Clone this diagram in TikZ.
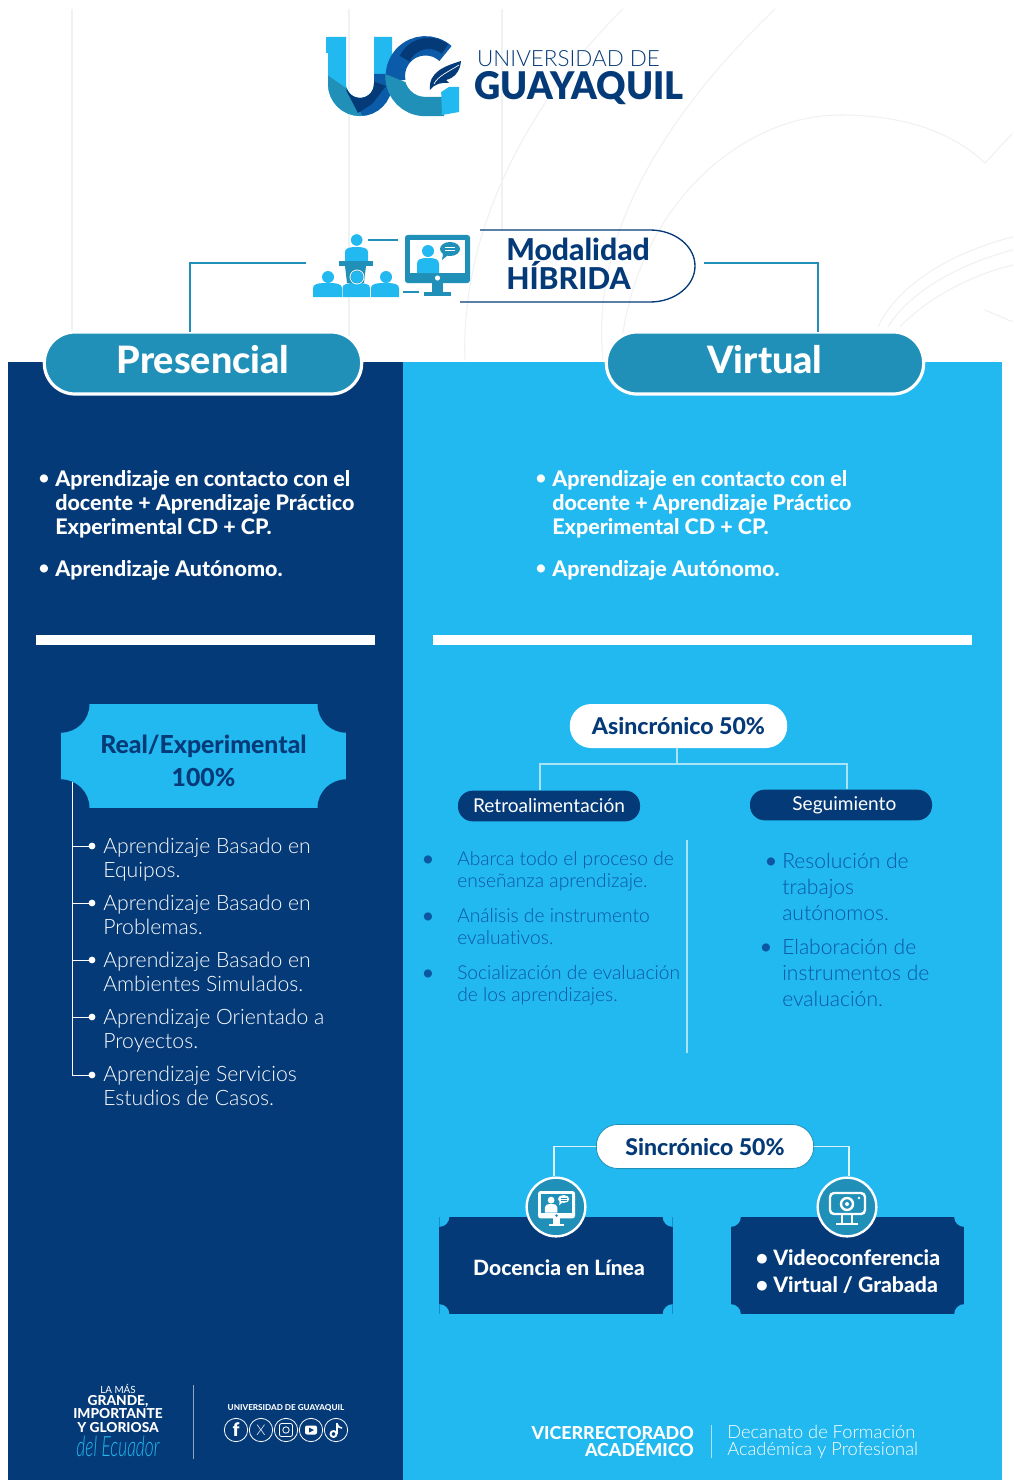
\documentclass[tikz,border=0pt]{standalone}
\usepackage{fontspec}
\setmainfont{Lato}[Ligatures=NoCommon]
\newfontfamily\lightf{Lato Light}[Ligatures=NoCommon]
\newfontfamily\heavyf{Lato Heavy}[Ligatures=NoCommon]
\newfontfamily\blackf{Lato Black}[Ligatures=NoCommon]
\usetikzlibrary{calc}
\definecolor{navy}{HTML}{053A78}
\definecolor{sky}{HTML}{22B8F0}
\definecolor{teal}{HTML}{2190B8}
\definecolor{midblue}{HTML}{0B5BA8}
\definecolor{bodyblue}{HTML}{0B57A2}
\definecolor{faint}{HTML}{EFF1F3}
\definecolor{paleline}{HTML}{A9E3F8}
\newcommand{\fz}[2]{\fontsize{#1}{#2}\selectfont}
\newcommand{\monicon}[6]{%
 \begin{scope}[shift={(#1,#2)},scale=#3]
  \fill[#4,rounded corners=2pt] (0,0) rectangle (65,48);
  \fill[#5] (5,5) rectangle (60,38);
  \fill[#4] (27,48) rectangle (38,57);
  \fill[#4] (19,57) rectangle (46,61);
  \fill[#5] (32.5,43) circle (2.6);
  \fill[#6] (23,16) circle (6);
  \fill[#6] (12,38) -- (12,29) .. controls (12,24) and (16,23) .. (23,23) .. controls (30,23) and (34,24) .. (34,29) -- (34,38) -- cycle;
  \fill[#4] (45,14) ellipse (10 and 7);
  \fill[#4] (38,19) -- (43,20) -- (37,25) -- cycle;
  \draw[#5,line width=.5pt] (40,12) -- (50,12) (40,15.5) -- (50,15.5);
 \end{scope}}
\newcommand{\person}[3]{%
 \fill[sky] (#1,#3) -- (#1,#3-9) .. controls (#1,#3-13) and (#1+5,#3-14) .. ({(#1+#2)/2},#3-14) .. controls (#2-5,#3-14) and (#2,#3-13) .. (#2,#3-9) -- (#2,#3) -- cycle;}
\tikzset{
 pillbig/.style={fill=teal,draw=white,line width=2.4pt,rounded corners=23pt,inner sep=0pt,minimum width=238pt,minimum height=46.5pt},
 pilltext/.style={inner sep=0pt,text=white,font=\heavyf\fz{28.3}{30}},
 pillwhite/.style={fill=white,rounded corners=16pt,text=navy,inner sep=0pt,font=\heavyf\fz{17.3}{18},minimum width=163pt,minimum height=33pt},
 pillnavy/.style={fill=navy,rounded corners=11pt,text=white,inner sep=0pt,font=\fz{14.3}{16},minimum width=136.5pt,minimum height=23pt},
 ticket/.style n args={3}{fill=#1,inner sep=0pt,path picture={
   \fill[#2] (path picture bounding box.north west) circle (#3pt);
   \fill[#2] (path picture bounding box.north east) circle (#3pt);
   \fill[#2] (path picture bounding box.south west) circle (#3pt);
   \fill[#2] (path picture bounding box.south east) circle (#3pt);}},
 boldlist/.style={text=white,anchor=north west,inner sep=0pt,align=left,font=\heavyf\fz{16.1}{18}},
 lightlist/.style={text=white,anchor=north west,inner sep=0pt,align=left,font=\lightf\fz{15.9}{18}},
 retro/.style={text=bodyblue,anchor=north west,inner sep=0pt,align=left,font=\lightf\fz{14.4}{16.5}},
 segui/.style={text=bodyblue,anchor=north west,inner sep=0pt,align=left,font=\lightf\fz{15.8}{19.5}},
 bul/.style={inner sep=0pt,font=\bfseries\fz{14}{14}},
 conn/.style={draw=teal,line width=1.4pt},
 pale/.style={draw=paleline,line width=1.1pt},
 socialc/.style={draw=white,line width=.6pt,circle,minimum size=17.5pt,inner sep=0pt,text=white},
 plain/.style={inner sep=0pt},
}
\begin{document}
\begin{tikzpicture}[x=0.75pt,y=-0.75pt]
\useasboundingbox (0,0) rectangle (1013,1480);
\fill[white] (0,0) rectangle (1013,1480);
% faint background lines
\begin{scope}[draw=faint,line width=.8pt]
 \draw (72,9) -- (72,332);
 \draw (349,9) -- (349,362);
 \draw (502,9) -- (502,230);
 \draw (623,9) .. controls (530,100) and (460,230) .. (465,360);
 \draw (775,9) .. controls (670,110) and (590,230) .. (603,360);
 \draw (620,360) .. controls (630,210) and (740,115) .. (840,115) .. controls (900,115) and (950,130) .. (985,163) -- (1013,133);
 \draw (878,327) .. controls (900,280) and (960,250) .. (1013,237);
 \draw (888,327) .. controls (910,290) and (965,262) .. (1013,250);
 \draw (900,327) .. controls (925,300) and (970,275) .. (1013,265);
 \draw (985,310) -- (1013,322);
\end{scope}
% panels
\fill[navy] (8,362) rectangle (403,1480);
\fill[sky] (403,362) rectangle (1002,1480);
% logo : U
\begin{scope}[line width=13.5pt]
 \draw[sky] (337,37) -- (337,84) arc (180:0:23) -- (383,37);
 \fill[sky] (326,37) rectangle (346,53);
 \begin{scope}
  \clip (320,70) -- (346,88) -- (365,120) -- (320,120) -- cycle;
  \draw[teal] (337,37) -- (337,84) arc (180:0:23);
 \end{scope}
 \begin{scope}
  \clip (346,88) -- (365,120) -- (400,120) -- (400,74) -- (370,74) -- cycle;
  \draw[midblue] (337,84) arc (180:0:23) -- (383,37);
 \end{scope}
 \begin{scope}
  \clip (346,90) -- (358,113) -- (372,104) -- (386,86) -- (370,80) -- cycle;
  \draw[navy] (337,84) arc (180:0:23) -- (383,37);
 \end{scope}
 % G
 \draw[midblue,line width=14.5pt] (445.5,53.5) arc (-48:-190:30);
 \draw[navy,line width=8.5pt] (445,49) arc (-52:-155:26.5);
 \begin{scope}
  \clip (380,72) -- (405,82) -- (425,90) -- (445,90) -- (445,125) -- (380,125) -- cycle;
  \draw[teal,line width=14.5pt] (395,70) -- (395,76.5) arc (180:90:30) -- (444,106.5);
 \end{scope}
\end{scope}
\fill[sky] (441,87) -- (459,87) -- (459,112) -- (442,115) -- cycle;
\fill[white] (427,93) .. controls (425,72) and (445,60) .. (464,56) -- (460,78) -- (450,86) -- (441,92) -- cycle;
\fill[navy] (430,90) .. controls (428,72) and (445,66) .. (461,61) .. controls (460,72) and (454,78) .. (446,80) -- (449,83) .. controls (442,82) and (434,84) .. (430,90) -- cycle;
\draw[white,line width=.5pt] (434,84) .. controls (438,76) and (448,72) .. (459,65);
\node[plain,text=navy,font=\lightf\fz{16.8}{20}] (uni) at (568.5,58.5) {UNIVERSIDAD DE};
\node[plain,text=navy,yscale=1.05,font=\blackf\fz{27.2}{32}] (gye) at (579,88) {GUAYAQUIL};
% hybrid label
\draw[navy,line width=1pt] (480,230) -- (650,230) arc (-90:0:45 and 36) arc (0:90:45 and 36) -- (460,302);
\node[plain,text=navy,anchor=west,align=left,font=\heavyf\fz{22.6}{22}] (mod) at (506,264) {Modalidad\\HÍBRIDA};
% presenter & audience icon
\fill[sky] (356.7,240) circle (5.8);
\person{345}{368}{261}
\fill[teal] (339,261) rectangle (373,266);
\fill[teal] (345,266) -- (366,266) -- (364,283) -- (347,283) -- cycle;
\foreach \hx/\bl/\br in {328/313/342,357/342.5/370,386/371/399}{
 \fill[sky] (\hx,277) circle (6);
 \person{\bl}{\br}{297}
}
\draw[white,line width=.6pt] (357,277) circle (7);
\monicon{405}{235}{1}{teal}{white}{sky}
\draw[teal,line width=1pt] (368,240) -- (398,240);
\draw[teal,line width=1pt] (403,292) -- (419,292);
% top pills
\node[pillbig] (pres) at (203,363) {};
\node[pillbig] (virt) at (765,363) {};
\node[pilltext] (prest) at (203,360) {Presencial};
\node[pilltext] (virtt) at (765,360) {Virtual};
\coordinate (lstart) at (306,263);
\coordinate (rstart) at (704,263);
\draw[conn] (lstart) -| ([xshift=-9.75pt,yshift=-1pt]pres.north);
\draw[conn] (rstart) -| ([xshift=39.75pt,yshift=-1pt]virt.north);
% top bullets
\node[bul,text=white] (b1) at (44,480) {•};
\node[bul,text=white] (b2) at (44,570) {•};
\node[boldlist] (t1) at (55,470) {Aprendizaje en contacto con el\\docente + Aprendizaje Práctico\\Experimental CD + CP.};
\node[boldlist] (t2) at (55,560) {Aprendizaje Autónomo.};
\node[bul,text=white] (b3) at (541,480) {•};
\node[bul,text=white] (b4) at (541,570) {•};
\node[boldlist] (t3) at (552,470) {Aprendizaje en contacto con el\\docente + Aprendizaje Práctico\\Experimental CD + CP.};
\node[boldlist] (t4) at (552,560) {Aprendizaje Autónomo.};
% bars
\fill[white] (36,635) rectangle (375,645);
\fill[white] (433,635) rectangle (972,645);
% left panel
\node[ticket={sky}{navy}{21.5},minimum width=214pt,minimum height=78pt] (real) at (203.5,756) {};
\node[plain,align=center,text=navy,font=\heavyf\fz{18.6}{24.75}] (realt) at (203.5,761) {Real/Experimental\\100\%};
\coordinate (trunk) at (72,782);
\coordinate (trunkend) at (72,1075);
\draw[draw=white,line width=.7pt] (trunk) -- (trunkend);
\foreach \yy in {846,903,960,1017,1075}{
 \draw[draw=white,line width=.7pt] (72,\yy) -- (92,\yy);
 \fill[white] (92,\yy) circle (3.4);
}
\node[lightlist] (l1) at (103,838) {Aprendizaje Basado en\\Equipos.};
\node[lightlist] (l2) at (103,895) {Aprendizaje Basado en\\Problemas.};
\node[lightlist] (l3) at (103,952) {Aprendizaje Basado en\\Ambientes Simulados.};
\node[lightlist] (l4) at (103,1009) {Aprendizaje Orientado a\\Proyectos.};
\node[lightlist] (l5) at (103,1066) {Aprendizaje Servicios\\Estudios de Casos.};
% asincronico
\node[pillwhite] (asin) at (678.5,726) {Asincrónico 50\%};
\node[pillnavy] (retr) at (549,806) {Retroalimentación};
\node[pillnavy] (segu) at (841,805) {\hspace*{5pt}Seguimiento};
\coordinate (forkm) at (677,764);
\draw[pale] (asin.south -| forkm) -- (forkm);
\draw[pale] ([xshift=-6.75pt]retr.north) |- (forkm) -| ([xshift=4.5pt]segu.north);
\foreach \n/\yy in {r1/861,r2/918,r3/975}{\node[bul,text=bodyblue] (\n) at (428,\yy) {•};}
\node[retro] (rt1) at (457,851) {Abarca todo el proceso de\\enseñanza aprendizaje.};
\node[retro] (rt2) at (457,908) {Análisis de instrumento\\evaluativos.};
\node[retro] (rt3) at (457,965) {Socialización de evaluación\\de los aprendizajes.};
\coordinate (vt) at (687,840);
\coordinate (vb) at (687,1053);
\draw[pale] (vt) -- (vb);
\node[bul,text=bodyblue] (s1) at (771,863) {•};
\node[bul,text=bodyblue] (s2) at (766,949) {•};
\node[segui] (st1) at (782,853) {Resolución de\\trabajos\\autónomos.};
\node[segui] (st2) at (782,939) {Elaboración de\\instrumentos de\\evaluación.};
% sincronico
\node[ticket={navy}{sky}{7.5},minimum width=175pt,minimum height=73pt] (doc) at (556,1265.5) {};
\node[ticket={navy}{sky}{7.5},minimum width=175pt,minimum height=73pt] (vid) at (847.5,1265.5) {};
\node[plain,text=white,font=\heavyf\fz{15.8}{20}] (doct) at (559,1267.5) {Docencia en Línea};
\node[plain,text=white,align=left,font=\heavyf\fz{15.9}{20.2}] (vidt) at (848,1271.5) {• Videoconferencia\\• Virtual / Grabada};
\node[pillwhite,draw=teal,line width=.6pt] (sinc) at (705,1146.5) {Sincrónico 50\%};
\node[circle,fill=teal,draw=white,line width=1.8pt,minimum size=44pt,inner sep=0pt] (ic1) at (556,1207) {};
\node[circle,fill=teal,draw=white,line width=1.8pt,minimum size=44pt,inner sep=0pt] (ic2) at (847,1207) {};
\draw[draw=white!85!sky,line width=1.2pt] (sinc.west) -| ([xshift=-1.5pt]ic1.north);
\draw[draw=white!85!sky,line width=1.2pt] (sinc.east) -| ([xshift=1.5pt]ic2.north);
\monicon{538}{1191}{0.57}{white}{teal}{white}
\begin{scope}
 \draw[white,line width=1.8pt,rounded corners=3pt] (830,1193) rectangle (865,1214);
 \draw[white,line width=1.8pt] (847,1204) circle (6);
 \fill[white] (847,1204) circle (2);
 \fill[white] (859,1198) circle (1.3);
 \draw[white,line width=1.3pt] (842,1214) -- (842,1223) (852,1214) -- (852,1223);
 \draw[white,line width=1.6pt] (836,1224) -- (858,1224);
\end{scope}
% footer left
\node[plain,text=white,font=\fz{7.4}{8}] (f1) at (118,1389) {LA MÁS};
\node[plain,text=white,align=center,font=\heavyf\fz{10.3}{10.2}] (f2) at (118,1414) {GRANDE,\\IMPORTANTE\\Y GLORIOSA};
\node[plain,text=sky,xscale=.62,font=\lightf\itshape\fz{21}{21}] (f3) at (118,1446) {del Ecuador};
\coordinate (ft1) at (193,1385);
\coordinate (fb1) at (193,1459);
\draw[draw=white!55!navy,line width=.6pt] (ft1) -- (fb1);
\node[plain,text=white,font=\heavyf\fz{6.1}{7}] (f4) at (286,1408) {UNIVERSIDAD DE GUAYAQUIL};
\node[socialc,font=\blackf\fz{14}{14}] (sf) at (236,1430) {f};
\node[socialc,font=\lightf\fz{11}{11}] (sx) at (261,1430) {X};
\node[socialc] (si) at (286,1430) {};
\node[socialc] (sy) at (311,1430) {};
\node[socialc] (st) at (336,1430) {};
\draw[white,line width=.6pt,rounded corners=1.5pt] (279.5,1423.5) rectangle (292.5,1436.5);
\draw[white,line width=.6pt] (286,1430) circle (3.2);
\fill[white,rounded corners=1.5pt] (305,1425.5) rectangle (317,1434.5);
\fill[navy] (309,1427.5) -- (314,1430) -- (309,1432.5) -- cycle;
\draw[white,line width=1.4pt] (337,1423) -- (337,1434);
\draw[white,line width=1.4pt] (333.5,1434) circle (3);
\draw[white,line width=1.2pt] (337,1423.5) .. controls (338,1427) and (340,1428) .. (342,1428);
% footer right
\node[plain,anchor=east,align=right,text=white,font=\heavyf\fz{13.4}{12.7}] (vr) at (694,1441.5) {VICERRECTORADO\\ACADÉMICO};
\coordinate (ft2) at (711,1425);
\coordinate (fb2) at (711,1458);
\draw[draw=white!60!sky,line width=.6pt] (ft2) -- (fb2);
\node[plain,anchor=west,align=left,text=white,font=\lightf\fz{13.7}{12.7}] (dec) at (727,1441.5) {Decanato de Formación\\Académica y Profesional};
\end{tikzpicture}
\end{document}
